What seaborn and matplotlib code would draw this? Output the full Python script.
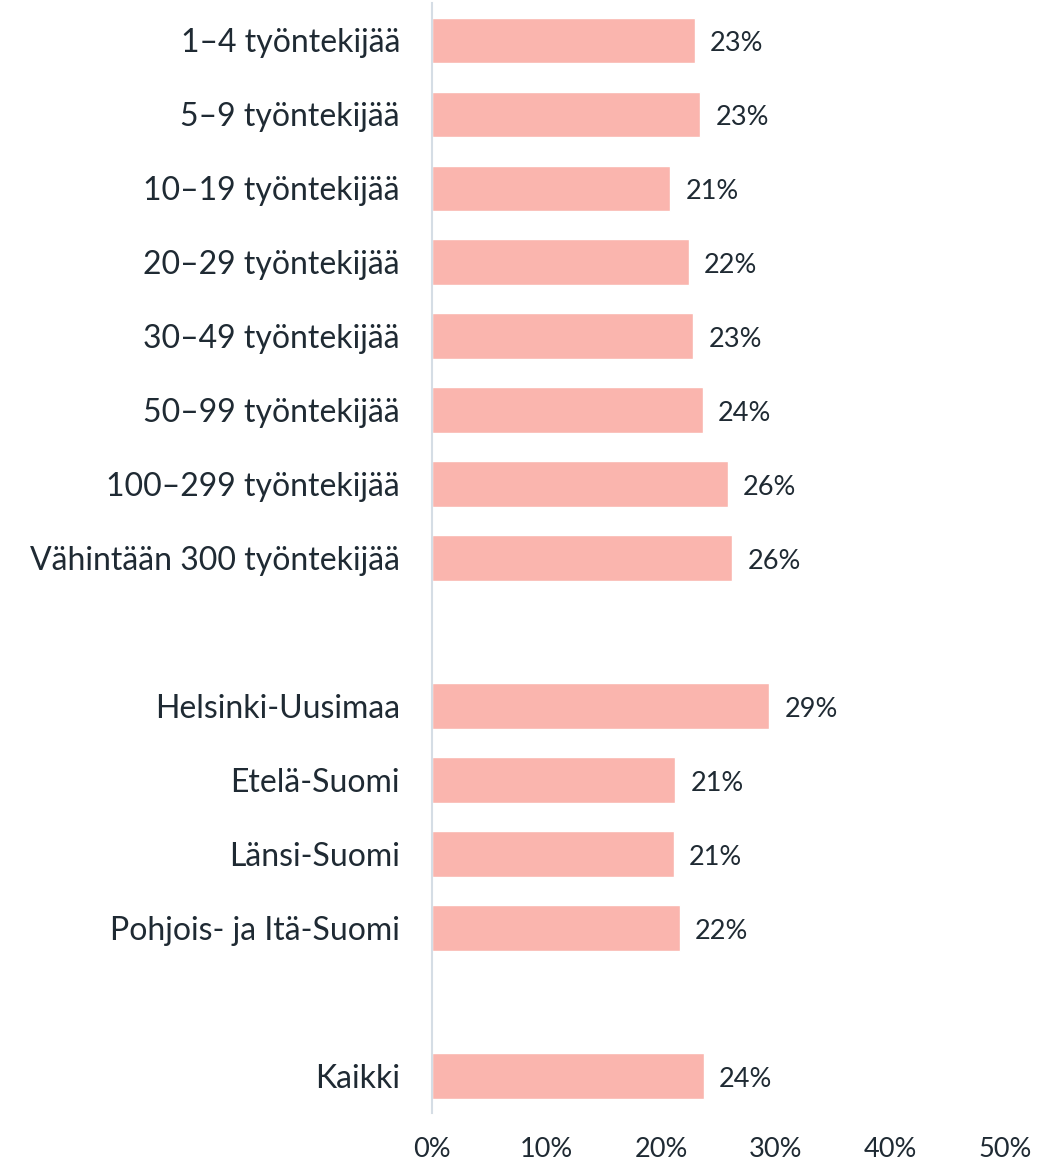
import pandas as pd
import numpy as np
import matplotlib.pyplot as plt
import seaborn as sns

# kokoluokat ja alueet, tyhjät rivit ryhmien väliin
categories = ['1–4 työntekijää', '5–9 työntekijää', '10–19 työntekijää',
              '20–29 työntekijää', '30–49 työntekijää', '50–99 työntekijää',
              '100–299 työntekijää', 'Vähintään 300 työntekijää',
              'Helsinki-Uusimaa', 'Etelä-Suomi', 'Länsi-Suomi',
              'Pohjois- ja Itä-Suomi', 'Kaikki']
values = [22.9, 23.4, 20.8, 22.4, 22.8, 23.6, 25.8, 26.2,
          29.4, 21.2, 21.1, 21.6, 23.7]
order = categories[:8] + [' '] + categories[8:12] + ['  '] + categories[12:]
xticks = [0, 10, 20, 30, 40, 50]

df = pd.DataFrame({'ryhma': categories, 'osuus': values})

sns.set_style('white')
plt.rcParams['font.family'] = ['Lato', 'DejaVu Sans']
text_col = '#1f2a33'

fig, ax = plt.subplots(figsize=(10.46, 11.62), dpi=100)
fig.subplots_adjust(left=0.413, right=0.961, top=0.997, bottom=0.042)

sns.barplot(data=df, x='osuus', y='ryhma', order=order, color='#fab5ae',
            saturation=1, width=0.62, ax=ax)

for c in ax.containers:
    labels = [f'{v:.0f}%' if not np.isnan(v) else '' for v in c.datavalues]
    texts = ax.bar_label(c, labels=labels, padding=11, fontsize=19.5, color=text_col)
    for t in texts:
        t.xyann = (t.xyann[0], -2.5)  # hieman alemmas kuten alkuperäisessä

ax.set_xlim(0, 50)
ax.set_xticks(xticks)
ax.set_xticklabels([f'{t}%' for t in xticks], fontsize=19.5, color=text_col)
ax.tick_params(axis='y', labelsize=23, labelcolor=text_col, length=0, pad=23)
ax.tick_params(axis='x', length=0, pad=17)
ax.set_xlabel('')
ax.set_ylabel('')
for s in ['top', 'right', 'bottom']:
    ax.spines[s].set_visible(False)
ax.spines['left'].set_color('#d5dde5')
ax.spines['left'].set_linewidth(1.5)

plt.savefig('out.png', dpi=100)
